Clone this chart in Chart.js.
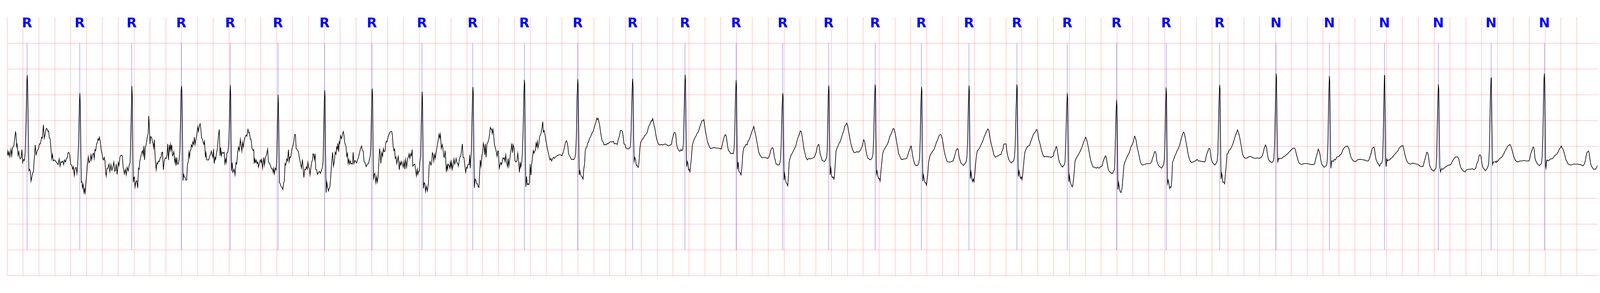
<!DOCTYPE html>
<html>
<head>
<meta charset="utf-8">
<script src="https://cdn.jsdelivr.net/npm/chart.js@4.4.1/dist/chart.umd.min.js"></script>
<style>
  html, body { margin: 0; padding: 0; background: #fff; overflow: hidden; }
  #wrap { position: relative; width: 100vw; height: 100vh; }
</style>
</head>
<body>
<div id="wrap"><canvas id="ecgChart"></canvas></div>
<script>
// beat annotations (seconds) and their symbols
const beatTimes = [0.250, 0.915, 1.570, 2.196, 2.813, 3.416, 4.003, 4.600, 5.232, 5.872, 6.524, 7.197,
  7.890, 8.550, 9.196, 9.783, 10.362, 10.949, 11.532, 12.133, 12.738, 13.373, 13.995, 14.621, 15.294,
  16.007, 16.680, 17.374, 18.055, 18.720, 19.392];
const beatSymbols = ['R','R','R','R','R','R','R','R','R','R','R','R','R','R','R','R','R','R','R','R','R','R','R','R','R',
  'N','N','N','N','N','N'];

// trace: [time s, mV]
const seg1 = [[0,-0.17],[0.005,-0.09],[0.014,-0.17],[0.023,-0.10],[0.034,-0.20],[0.048,-0.05],[0.057,-0.18],[0.068,-0.02],[0.083,0.01],[0.095,0.16],[0.104,0.28],[0.110,0.25],[0.119,0.00],[0.125,0.04],[0.137,-0.17],[0.146,-0.10],[0.155,-0.20],[0.163,-0.24],[0.175,-0.22],[0.184,-0.06],[0.195,-0.31],[0.206,-0.25],[0.217,-0.27],[0.226,-0.13],[0.238,0.52],[0.247,1.25],[0.253,1.38],[0.259,1.10],[0.266,0.30],[0.273,-0.47],[0.282,-0.44],[0.291,-0.47],[0.300,-0.67],[0.309,-0.60],[0.321,-0.51],[0.330,-0.49],[0.340,-0.26],[0.353,0.03],[0.364,-0.16],[0.380,-0.08],[0.394,-0.04],[0.406,0.05],[0.418,0.05],[0.434,0.18],[0.443,0.16],[0.457,0.42],[0.467,0.16],[0.478,0.23],[0.488,0.33],[0.498,0.35],[0.514,0.29],[0.522,0.30],[0.532,0.16],[0.541,0.15],[0.551,-0.02],[0.562,-0.24],[0.571,-0.15],[0.581,-0.28],[0.594,-0.26],[0.606,-0.27],[0.618,-0.30],[0.632,-0.33],[0.642,-0.35],[0.655,-0.24],[0.666,-0.38],[0.678,-0.29],[0.690,-0.31],[0.702,-0.28],[0.712,-0.35],[0.724,-0.26],[0.736,-0.30],[0.745,-0.24],[0.757,-0.22],[0.766,-0.13],[0.775,-0.11],[0.787,-0.15],[0.801,-0.35],[0.813,-0.36],[0.826,-0.44],[0.834,-0.39],[0.846,-0.56],[0.858,-0.41],[0.871,-0.41],[0.879,-0.52],[0.889,-0.35],[0.901,0.09],[0.910,0.81],[0.916,1.03],[0.922,0.81],[0.929,-0.06],[0.935,-0.69],[0.942,-0.68],[0.949,-0.80],[0.958,-0.73],[0.968,-0.89],[0.975,-0.82],[0.983,-0.90],[0.993,-0.69],[1.003,-0.53],[1.011,-0.35],[1.023,-0.20],[1.031,-0.31],[1.045,-0.28],[1.056,-0.16],[1.065,-0.26],[1.077,-0.15],[1.089,-0.13],[1.097,-0.23],[1.107,-0.06],[1.116,-0.08],[1.126,0.04],[1.137,0.08],[1.145,0.15],[1.155,0.12],[1.162,0.18],[1.173,0.11],[1.185,-0.06],[1.197,-0.15],[1.205,-0.24],[1.215,-0.26],[1.223,-0.21],[1.233,-0.28],[1.241,-0.49],[1.248,-0.57],[1.259,-0.42],[1.271,-0.42],[1.284,-0.34],[1.295,-0.49],[1.308,-0.35],[1.320,-0.46],[1.332,-0.40],[1.345,-0.30],[1.356,-0.48],[1.366,-0.46],[1.375,-0.34],[1.386,-0.54],[1.400,-0.31],[1.410,-0.37],[1.422,-0.20],[1.436,-0.17],[1.451,-0.18],[1.463,-0.40],[1.478,-0.53],[1.490,-0.44],[1.502,-0.55],[1.512,-0.40],[1.526,-0.47],[1.540,-0.35],[1.550,-0.31],[1.560,0.30],[1.572,1.17],[1.578,0.96],[1.584,-0.06],[1.590,-0.69],[1.598,-0.60],[1.604,-0.59],[1.613,-0.78],[1.622,-0.69],[1.634,-0.66],[1.646,-0.80],[1.656,-0.42],[1.664,-0.44],[1.672,-0.28],[1.682,-0.22],[1.694,-0.13],[1.706,-0.08],[1.715,-0.17],[1.724,0.01],[1.733,-0.26],[1.742,-0.02],[1.754,0.05],[1.766,0.18],[1.778,0.25],[1.785,0.59]];

const seg2 = [[1.795,0.31],[1.801,0.05],[1.809,0.19],[1.821,0.18],[1.831,0.10],[1.840,0.05],[1.848,-0.03],[1.856,0.13],[1.864,-0.14],[1.870,-0.31],[1.879,-0.45],[1.889,-0.31],[1.897,-0.34],[1.909,-0.28],[1.919,-0.29],[1.929,-0.22],[1.940,-0.21],[1.952,-0.11],[1.959,-0.11],[1.970,-0.45],[1.980,-0.30],[1.992,-0.22],[2.007,-0.23],[2.017,-0.16],[2.024,0.05],[2.035,-0.26],[2.045,0.03],[2.053,-0.08],[2.061,0.04],[2.068,-0.06],[2.075,0.03],[2.085,-0.18],[2.093,-0.16],[2.102,-0.10],[2.114,-0.30],[2.122,-0.23],[2.129,-0.37],[2.139,-0.21],[2.147,-0.34],[2.158,-0.34],[2.169,-0.25],[2.178,-0.06],[2.187,0.57],[2.193,1.07],[2.200,1.17],[2.206,0.94],[2.212,0.06],[2.217,-0.66],[2.226,-0.54],[2.236,-0.59],[2.246,-0.60],[2.252,-0.65],[2.264,-0.65],[2.273,-0.35],[2.283,-0.30],[2.292,-0.11],[2.301,-0.21],[2.307,-0.09],[2.317,-0.06],[2.324,0.03],[2.334,-0.01],[2.341,0.09],[2.352,0.04],[2.361,0.18],[2.370,0.04],[2.383,0.15],[2.392,0.24],[2.403,0.38],[2.413,0.29],[2.423,0.40],[2.434,0.44],[2.444,0.31],[2.452,0.16],[2.462,0.15],[2.470,0.09],[2.480,0.04],[2.489,0.10],[2.500,-0.21],[2.507,-0.12],[2.517,-0.26],[2.529,-0.26],[2.541,-0.26],[2.556,-0.18],[2.566,-0.15],[2.574,-0.09],[2.584,-0.15],[2.595,-0.21],[2.602,-0.05],[2.612,-0.33],[2.622,-0.21],[2.629,-0.25],[2.639,-0.14],[2.651,-0.04],[2.663,0.19],[2.675,0.33],[2.685,-0.18],[2.693,-0.02],[2.702,-0.18],[2.712,-0.11],[2.724,-0.13],[2.736,-0.11],[2.746,-0.33],[2.756,-0.24],[2.763,-0.31],[2.771,-0.13],[2.783,-0.11],[2.795,0.06],[2.804,0.57],[2.810,1.02],[2.815,1.19],[2.819,1.02],[2.824,0.06],[2.830,-0.47],[2.838,-0.31],[2.846,-0.50],[2.855,-0.47],[2.862,-0.44],[2.874,-0.55],[2.885,-0.31],[2.895,-0.34],[2.907,-0.11],[2.917,-0.01],[2.928,-0.08],[2.941,0.14],[2.950,0.02],[2.960,-0.09],[2.968,0.08],[2.978,-0.01],[2.990,0.13],[3.003,0.19],[3.015,0.22],[3.023,0.20],[3.037,0.33],[3.048,0.26],[3.056,0.27],[3.066,0.14],[3.076,0.14],[3.088,-0.03],[3.102,-0.08],[3.110,-0.06],[3.115,-0.33],[3.123,-0.24],[3.132,-0.31],[3.141,-0.26],[3.151,-0.33],[3.160,-0.30],[3.170,-0.40],[3.182,-0.31],[3.194,-0.26],[3.203,-0.31],[3.211,-0.25],[3.221,-0.42],[3.237,-0.21],[3.245,-0.36],[3.258,-0.21],[3.273,-0.15],[3.285,-0.05],[3.295,-0.30],[3.310,-0.33],[3.325,-0.39],[3.334,-0.43],[3.346,-0.43],[3.355,-0.50],[3.362,-0.42],[3.371,-0.53],[3.383,-0.42],[3.393,-0.45],[3.401,-0.19],[3.410,0.52],[3.417,1.00],[3.422,0.82],[3.428,0.06],[3.434,-0.70],[3.444,-0.72],[3.454,-0.77],[3.466,-0.79],[3.477,-0.83],[3.487,-0.70],[3.495,-0.68],[3.505,-0.33],[3.514,-0.36],[3.527,-0.24],[3.536,-0.28],[3.548,-0.06],[3.556,-0.29],[3.566,-0.20],[3.576,-0.21],[3.590,-0.06],[3.605,0.02],[3.615,0.09],[3.625,0.23],[3.636,0.23],[3.645,-0.04],[3.658,-0.06]];

const seg3 = [[3.666,-0.08],[3.675,-0.11],[3.684,-0.21],[3.696,-0.30],[3.712,-0.42],[3.724,-0.25],[3.732,-0.40],[3.742,-0.60],[3.753,-0.44],[3.763,-0.45],[3.775,-0.39],[3.785,-0.44],[3.793,-0.31],[3.802,-0.40],[3.811,-0.42],[3.820,-0.55],[3.830,-0.42],[3.842,-0.30],[3.850,-0.26],[3.858,-0.14],[3.866,-0.15],[3.875,-0.25],[3.884,-0.14],[3.892,-0.44],[3.903,-0.45],[3.915,-0.54],[3.927,-0.50],[3.939,-0.48],[3.951,-0.52],[3.963,-0.47],[3.976,-0.40],[3.984,-0.29],[3.991,0.19],[3.999,0.82],[4.005,1.09],[4.010,0.94],[4.014,0.06],[4.023,-0.89],[4.032,-0.69],[4.042,-0.79],[4.052,-0.86],[4.060,-0.82],[4.069,-0.79],[4.079,-0.64],[4.091,-0.34],[4.105,-0.11],[4.115,-0.38],[4.127,-0.29],[4.137,-0.11],[4.148,-0.15],[4.156,-0.01],[4.164,-0.05],[4.171,0.06],[4.181,-0.10],[4.188,0.09],[4.195,0.06],[4.205,0.21],[4.217,0.15],[4.227,0.22],[4.239,0.29],[4.246,0.24],[4.256,0.09],[4.266,0.03],[4.273,0.01],[4.283,-0.19],[4.293,-0.13],[4.300,-0.33],[4.310,-0.25],[4.319,-0.34],[4.329,-0.28],[4.339,-0.34],[4.348,-0.33],[4.356,-0.34],[4.364,-0.11],[4.374,-0.33],[4.387,-0.27],[4.397,-0.29],[4.407,-0.32],[4.419,-0.26],[4.431,-0.21],[4.443,-0.13],[4.455,-0.05],[4.470,0.01],[4.480,-0.08],[4.492,-0.09],[4.501,-0.29],[4.514,-0.31],[4.528,-0.39],[4.543,-0.34],[4.559,-0.33],[4.571,-0.23],[4.579,-0.20],[4.587,0.01],[4.594,0.57],[4.601,1.07],[4.605,1.12],[4.610,0.94],[4.615,0.06],[4.621,-0.64],[4.629,-0.54],[4.638,-0.52],[4.650,-0.70],[4.660,-0.58],[4.669,-0.69],[4.679,-0.59],[4.689,-0.28],[4.698,-0.04],[4.706,-0.14],[4.713,-0.33],[4.725,-0.12],[4.735,-0.19],[4.745,-0.04],[4.754,-0.10],[4.766,-0.09],[4.774,0.05],[4.783,0.10],[4.791,0.09],[4.802,0.17],[4.813,0.22],[4.822,0.26],[4.832,0.28],[4.842,0.29],[4.850,0.29],[4.859,0.23],[4.868,0.00],[4.878,-0.08],[4.887,-0.05],[4.895,-0.23],[4.905,-0.20],[4.915,-0.33],[4.923,-0.26],[4.933,-0.19],[4.946,-0.45],[4.956,-0.30],[4.966,-0.36],[4.975,-0.29],[4.986,-0.34],[4.996,-0.40],[5.007,-0.29],[5.017,-0.44],[5.026,-0.25],[5.039,-0.40],[5.051,-0.23],[5.060,-0.21],[5.070,-0.14],[5.079,-0.23],[5.090,-0.14],[5.099,-0.18],[5.108,-0.06],[5.117,-0.38],[5.130,-0.35],[5.142,-0.34],[5.150,-0.44],[5.162,-0.57],[5.172,-0.44],[5.180,-0.54],[5.189,-0.48],[5.199,-0.48],[5.206,-0.30],[5.215,-0.19],[5.223,0.44],[5.234,1.06],[5.239,0.94],[5.245,0.06],[5.250,-0.81],[5.260,-0.70],[5.269,-0.72],[5.277,-0.87],[5.288,-0.77],[5.300,-0.86],[5.313,-0.72],[5.323,-0.36],[5.335,-0.29],[5.345,-0.36],[5.355,-0.32],[5.363,-0.12],[5.373,-0.16],[5.381,-0.28],[5.391,-0.15],[5.401,-0.23],[5.410,-0.12],[5.422,-0.01],[5.437,0.13],[5.448,0.24],[5.456,0.16],[5.465,0.24],[5.476,-0.04],[5.488,0.04],[5.497,-0.04],[5.506,-0.19],[5.515,-0.21],[5.524,-0.08],[5.531,-0.22],[5.539,-0.49],[5.549,-0.37],[5.556,-0.44]];

const seg4 = [[5.560,-0.34],[5.572,-0.36],[5.582,-0.42],[5.591,-0.30],[5.599,-0.41],[5.606,-0.30],[5.616,-0.44],[5.627,-0.34],[5.636,-0.24],[5.645,-0.34],[5.655,-0.29],[5.663,-0.23],[5.673,-0.31],[5.684,-0.33],[5.691,-0.38],[5.700,-0.29],[5.712,-0.20],[5.721,-0.19],[5.730,-0.09],[5.742,0.05],[5.751,-0.21],[5.761,-0.21],[5.769,-0.31],[5.783,-0.50],[5.795,-0.40],[5.803,-0.42],[5.812,-0.35],[5.821,-0.34],[5.827,-0.35],[5.834,-0.16],[5.842,-0.42],[5.849,-0.22],[5.855,-0.11],[5.862,0.44],[5.869,0.94],[5.875,1.15],[5.880,1.02],[5.886,0.06],[5.893,-0.80],[5.903,-0.63],[5.913,-0.65],[5.922,-0.72],[5.932,-0.72],[5.942,-0.78],[5.951,-0.79],[5.959,-0.54],[5.967,-0.26],[5.977,-0.38],[5.988,-0.18],[5.998,-0.11],[6.007,0.06],[6.017,-0.01],[6.024,-0.16],[6.032,0.05],[6.041,-0.21],[6.052,0.05],[6.064,0.08],[6.077,0.15],[6.085,0.24],[6.095,0.37],[6.105,0.33],[6.111,0.34],[6.119,0.25],[6.128,0.33],[6.136,0.24],[6.147,0.02],[6.156,-0.01],[6.168,-0.09],[6.180,-0.19],[6.188,-0.09],[6.196,-0.09],[6.207,-0.42],[6.216,-0.36],[6.226,-0.31],[6.235,-0.35],[6.244,-0.30],[6.255,-0.22],[6.265,-0.24],[6.271,-0.22],[6.280,-0.29],[6.289,-0.16],[6.299,-0.30],[6.311,-0.39],[6.320,-0.23],[6.328,-0.38],[6.338,-0.26],[6.348,-0.14],[6.356,-0.06],[6.366,0.06],[6.374,-0.12],[6.384,0.03],[6.394,-0.03],[6.405,-0.27],[6.417,-0.30],[6.429,-0.28],[6.441,-0.13],[6.451,-0.30],[6.462,-0.50],[6.471,-0.30],[6.479,-0.40],[6.491,-0.30],[6.498,-0.14],[6.508,0.31],[6.516,0.94],[6.524,1.29],[6.529,1.20],[6.535,0.06],[6.542,-0.78],[6.552,-0.58],[6.561,-0.74],[6.571,-0.72],[6.581,-0.74],[6.589,-0.69],[6.597,-0.34],[6.607,-0.55],[6.617,-0.34],[6.627,-0.19],[6.637,-0.08],[6.645,-0.13],[6.654,-0.09],[6.663,-0.08],[6.671,0.06],[6.678,0.00],[6.688,0.10],[6.695,-0.03],[6.707,0.06],[6.717,0.20],[6.729,0.23],[6.739,0.30],[6.748,0.38],[6.756,0.48],[6.763,0.28],[6.773,0.31],[6.782,0.25],[6.792,0.15],[6.802,0.06],[6.814,-0.04],[6.824,-0.11],[6.836,-0.19],[6.846,-0.26],[6.858,-0.23],[6.868,-0.28],[6.879,-0.24],[6.891,-0.21],[6.903,-0.23],[6.915,-0.20],[6.927,-0.19],[6.945,-0.17],[6.964,-0.16],[6.982,-0.16],[6.998,-0.18],[7.008,-0.14],[7.018,-0.09],[7.030,-0.01],[7.043,0.08],[7.055,0.11],[7.067,0.06],[7.074,-0.01],[7.081,-0.14],[7.094,-0.18],[7.106,-0.21],[7.118,-0.25],[7.134,-0.25],[7.149,-0.25],[7.162,-0.21],[7.171,-0.14],[7.180,0.19],[7.188,0.94],[7.198,1.30],[7.203,1.17],[7.209,0.31],[7.216,-0.55],[7.225,-0.47],[7.234,-0.55],[7.244,-0.58],[7.254,-0.59],[7.264,-0.63],[7.273,-0.44],[7.283,-0.34],[7.292,-0.09],[7.300,-0.03],[7.312,-0.01],[7.322,0.06],[7.334,0.09],[7.346,0.16],[7.358,0.18],[7.371,0.24],[7.383,0.27],[7.395,0.30],[7.407,0.38],[7.419,0.43],[7.429,0.49],[7.439,0.55]];

const seg5 = [[7.447,0.52],[7.456,0.54],[7.465,0.47],[7.473,0.42],[7.483,0.30],[7.495,0.19],[7.505,0.11],[7.517,0.09],[7.529,0.03],[7.544,0.04],[7.556,0.03],[7.568,0.06],[7.580,0.05],[7.595,0.08],[7.611,0.09],[7.629,0.09],[7.647,0.10],[7.659,0.05],[7.678,0.06],[7.696,0.04],[7.708,0.13],[7.724,0.21],[7.736,0.31],[7.748,0.31],[7.760,0.29],[7.769,0.21],[7.781,0.05],[7.793,0.04],[7.805,-0.03],[7.821,-0.04],[7.836,-0.05],[7.851,-0.03],[7.862,0.00],[7.870,0.26],[7.878,0.82],[7.887,1.25],[7.891,1.31],[7.896,1.12],[7.902,0.25],[7.908,-0.29],[7.918,-0.21],[7.927,-0.25],[7.935,-0.36],[7.945,-0.36],[7.953,-0.40],[7.963,-0.40],[7.972,-0.26],[7.981,-0.04],[7.991,0.08],[8.003,0.11],[8.015,0.15],[8.027,0.16],[8.040,0.21],[8.052,0.22],[8.064,0.25],[8.076,0.28],[8.088,0.37],[8.100,0.41],[8.113,0.45],[8.125,0.50],[8.133,0.49],[8.142,0.54],[8.151,0.49],[8.161,0.40],[8.171,0.34],[8.182,0.23],[8.194,0.14],[8.206,0.08],[8.218,0.04],[8.234,0.03],[8.249,0.04],[8.267,0.03],[8.285,0.04],[8.303,0.05],[8.321,0.03],[8.346,0.01],[8.364,0.03],[8.380,0.04],[8.388,0.13],[8.400,0.20],[8.413,0.27],[8.425,0.27],[8.433,0.24],[8.443,0.06],[8.455,-0.03],[8.467,-0.06],[8.479,-0.09],[8.489,-0.09],[8.499,-0.06],[8.510,-0.08],[8.522,-0.06],[8.530,0.06],[8.538,0.57],[8.545,1.07],[8.552,1.39],[8.557,1.27],[8.562,0.57],[8.571,-0.39],[8.579,-0.29],[8.586,-0.32],[8.595,-0.45],[8.603,-0.44],[8.613,-0.49],[8.623,-0.34],[8.632,-0.20],[8.642,0.01],[8.654,0.09],[8.667,0.14],[8.679,0.18],[8.692,0.21],[8.705,0.26],[8.718,0.28],[8.730,0.34],[8.742,0.40],[8.754,0.45],[8.766,0.50],[8.777,0.50],[8.787,0.52],[8.795,0.44],[8.807,0.31],[8.820,0.21],[8.832,0.10],[8.844,0.05],[8.856,0.00],[8.871,-0.04],[8.893,-0.03],[8.917,-0.02],[8.941,-0.03],[8.965,-0.03],[8.990,-0.04],[9.008,-0.05],[9.020,0.03],[9.032,0.11],[9.044,0.18],[9.057,0.23],[9.069,0.21],[9.077,0.13],[9.087,0.01],[9.099,-0.08],[9.114,-0.10],[9.129,-0.14],[9.145,-0.13],[9.160,-0.14],[9.170,-0.04],[9.178,0.31],[9.187,0.94],[9.195,1.28],[9.200,1.17],[9.206,0.25],[9.212,-0.44],[9.221,-0.30],[9.230,-0.48],[9.243,-0.50],[9.257,-0.55],[9.269,-0.39],[9.279,-0.16],[9.291,-0.03],[9.306,0.00],[9.318,0.04]];

const seg6 = [[9.333,0.03],[9.345,0.10],[9.360,0.13],[9.376,0.20],[9.391,0.28],[9.406,0.33],[9.418,0.39],[9.430,0.30],[9.443,0.21],[9.455,0.11],[9.467,0.01],[9.479,-0.10],[9.491,-0.15],[9.506,-0.19],[9.522,-0.22],[9.540,-0.21],[9.558,-0.21],[9.576,-0.22],[9.594,-0.23],[9.610,-0.20],[9.622,-0.14],[9.637,-0.05],[9.652,-0.02],[9.664,-0.05],[9.676,-0.19],[9.688,-0.26],[9.698,-0.33],[9.712,-0.35],[9.728,-0.36],[9.744,-0.34],[9.756,-0.24],[9.765,0.11],[9.773,0.69],[9.783,1.03],[9.788,0.97],[9.792,0.19],[9.800,-0.65],[9.807,-0.53],[9.817,-0.64],[9.826,-0.70],[9.836,-0.72],[9.846,-0.76],[9.856,-0.57],[9.865,-0.29],[9.875,-0.23],[9.890,-0.16],[9.904,-0.13],[9.919,-0.08],[9.933,-0.04],[9.947,0.01],[9.959,0.08],[9.971,0.15],[9.983,0.20],[9.995,0.25],[10.004,0.30],[10.016,0.29],[10.026,0.21],[10.038,0.10],[10.050,-0.04],[10.062,-0.12],[10.077,-0.21],[10.093,-0.26],[10.111,-0.23],[10.129,-0.24],[10.147,-0.23],[10.165,-0.22],[10.181,-0.21],[10.193,-0.16],[10.206,-0.11],[10.218,-0.01],[10.228,0.03],[10.238,0.04],[10.247,-0.04],[10.257,-0.16],[10.269,-0.20],[10.281,-0.27],[10.295,-0.28],[10.311,-0.29],[10.327,-0.25],[10.337,-0.21],[10.344,-0.09],[10.351,0.44],[10.357,0.99],[10.364,1.18],[10.368,1.07],[10.374,0.19],[10.381,-0.55],[10.390,-0.42],[10.400,-0.57],[10.410,-0.60],[10.419,-0.59],[10.429,-0.63],[10.436,-0.57],[10.445,-0.35],[10.456,-0.09],[10.468,-0.03],[10.481,0.01],[10.494,0.06],[10.506,0.09],[10.518,0.14],[10.530,0.20],[10.542,0.26],[10.554,0.31],[10.566,0.39],[10.579,0.42],[10.591,0.45],[10.603,0.40],[10.615,0.29],[10.627,0.18],[10.639,0.08],[10.652,0.00],[10.664,-0.06],[10.680,-0.11],[10.696,-0.12],[10.716,-0.10],[10.737,-0.11],[10.755,-0.09],[10.767,-0.06],[10.782,-0.01],[10.791,0.03],[10.803,0.13],[10.816,0.10],[10.828,-0.03],[10.842,-0.15],[10.858,-0.23],[10.874,-0.24],[10.889,-0.26],[10.901,-0.24],[10.913,-0.21],[10.922,-0.14],[10.931,0.19],[10.939,0.82],[10.949,1.20],[10.954,1.12],[10.960,0.19],[10.965,-0.53],[10.973,-0.47],[10.983,-0.57],[10.993,-0.62],[11.003,-0.62],[11.012,-0.67],[11.022,-0.47],[11.032,-0.33],[11.042,-0.16],[11.054,-0.09],[11.068,-0.04],[11.083,-0.01],[11.097,0.03],[11.109,0.06],[11.122,0.13],[11.134,0.19],[11.146,0.23],[11.158,0.27],[11.168,0.32],[11.178,0.35],[11.187,0.34],[11.198,0.28],[11.210,0.19],[11.223,0.06],[11.238,-0.06]];

const seg7 = [[11.244,-0.14],[11.254,-0.16],[11.266,-0.21],[11.280,-0.25],[11.295,-0.25],[11.311,-0.24],[11.329,-0.24],[11.347,-0.23],[11.359,-0.18],[11.372,-0.11],[11.384,-0.06],[11.396,0.00],[11.404,0.01],[11.414,-0.09],[11.424,-0.19],[11.436,-0.28],[11.450,-0.34],[11.465,-0.37],[11.481,-0.37],[11.497,-0.34],[11.509,-0.23],[11.517,0.11],[11.526,0.82],[11.534,1.15],[11.539,1.07],[11.544,0.19],[11.550,-0.67],[11.559,-0.55],[11.568,-0.64],[11.578,-0.70],[11.588,-0.70],[11.597,-0.75],[11.606,-0.62],[11.613,-0.54],[11.623,-0.31],[11.633,-0.23],[11.645,-0.16],[11.659,-0.13],[11.675,-0.09],[11.691,-0.06],[11.706,0.00],[11.720,0.07],[11.732,0.11],[11.745,0.16],[11.757,0.21],[11.769,0.23],[11.779,0.23],[11.791,0.18],[11.803,0.09],[11.815,-0.04],[11.827,-0.14],[11.842,-0.22],[11.857,-0.29],[11.876,-0.30],[11.894,-0.30],[11.912,-0.29],[11.930,-0.28],[11.946,-0.22],[11.958,-0.15],[11.970,-0.08],[11.985,-0.04],[11.997,-0.06],[12.007,-0.19],[12.019,-0.26],[12.031,-0.32],[12.046,-0.34],[12.063,-0.37],[12.080,-0.33],[12.094,-0.31],[12.107,-0.21],[12.116,0.11],[12.125,0.82],[12.133,1.18],[12.138,1.07],[12.143,0.19],[12.150,-0.62],[12.159,-0.49],[12.167,-0.60],[12.177,-0.68],[12.187,-0.63],[12.196,-0.68],[12.206,-0.54],[12.216,-0.34],[12.226,-0.19],[12.238,-0.09],[12.252,-0.06],[12.267,-0.03],[12.283,0.03],[12.299,0.08],[12.313,0.13],[12.325,0.19],[12.337,0.23],[12.350,0.28],[12.362,0.31],[12.371,0.34],[12.384,0.31],[12.396,0.18],[12.408,0.09],[12.420,0.01],[12.432,-0.06],[12.447,-0.16],[12.465,-0.21],[12.483,-0.19],[12.501,-0.18],[12.520,-0.16],[12.538,-0.15],[12.550,-0.09],[12.562,-0.05],[12.571,0.04],[12.583,0.05],[12.601,0.05],[12.611,-0.09],[12.623,-0.19],[12.635,-0.25],[12.651,-0.29],[12.666,-0.32],[12.684,-0.29],[12.696,-0.28],[12.708,-0.19],[12.717,0.06],[12.726,0.69],[12.737,1.20],[12.742,1.12],[12.748,0.19],[12.755,-0.58],[12.765,-0.47],[12.775,-0.57],[12.784,-0.62],[12.794,-0.59],[12.802,-0.64],[12.811,-0.54],[12.823,-0.34],[12.835,-0.13],[12.850,-0.06],[12.866,-0.01],[12.882,0.01],[12.896,0.02],[12.911,0.09],[12.923,0.14],[12.935,0.19],[12.947,0.24],[12.960,0.26],[12.972,0.29],[12.988,0.33],[13.000,0.28],[13.012,0.15],[13.024,0.08],[13.036,0.01],[13.048,-0.08],[13.064,-0.15],[13.079,-0.20],[13.097,-0.19],[13.113,-0.20],[13.125,-0.19]];

const seg8 = [[13.130,-0.20],[13.149,-0.20],[13.167,-0.21],[13.185,-0.20],[13.197,-0.18],[13.206,-0.11],[13.218,-0.08],[13.228,-0.02],[13.237,0.00],[13.246,-0.06],[13.254,-0.14],[13.264,-0.25],[13.276,-0.31],[13.288,-0.34],[13.301,-0.38],[13.313,-0.40],[13.325,-0.37],[13.337,-0.35],[13.345,-0.29],[13.354,0.11],[13.364,0.69],[13.373,1.03],[13.378,0.94],[13.384,0.19],[13.392,-0.68],[13.400,-0.56],[13.410,-0.68],[13.420,-0.73],[13.429,-0.76],[13.437,-0.78],[13.446,-0.72],[13.458,-0.54],[13.471,-0.28],[13.485,-0.23],[13.501,-0.19],[13.519,-0.14],[13.537,-0.09],[13.553,-0.03],[13.568,0.03],[13.580,0.09],[13.592,0.13],[13.604,0.18],[13.616,0.14],[13.629,0.06],[13.641,-0.04],[13.653,-0.14],[13.667,-0.26],[13.683,-0.34],[13.701,-0.40],[13.720,-0.40],[13.738,-0.42],[13.756,-0.40],[13.774,-0.42],[13.793,-0.39],[13.811,-0.38],[13.823,-0.30],[13.835,-0.25],[13.847,-0.20],[13.857,-0.18],[13.867,-0.22],[13.878,-0.34],[13.890,-0.44],[13.902,-0.48],[13.918,-0.50],[13.932,-0.52],[13.945,-0.52],[13.957,-0.47],[13.969,-0.44],[13.977,-0.06],[13.986,0.57],[13.995,0.90],[14.000,0.77],[14.006,0.06],[14.012,-0.83],[14.021,-0.70],[14.030,-0.79],[14.039,-0.87],[14.051,-0.89],[14.064,-0.81],[14.076,-0.59],[14.088,-0.36],[14.102,-0.29],[14.117,-0.24],[14.133,-0.18],[14.149,-0.14],[14.163,-0.08],[14.175,-0.01],[14.190,0.03],[14.206,0.09],[14.222,0.20],[14.230,0.18],[14.242,0.11],[14.254,-0.01],[14.266,-0.09],[14.279,-0.18],[14.291,-0.26],[14.303,-0.33],[14.321,-0.36],[14.345,-0.35],[14.370,-0.33],[14.394,-0.33],[14.418,-0.33],[14.437,-0.30],[14.449,-0.22],[14.461,-0.18],[14.473,-0.10],[14.485,-0.10],[14.494,-0.15],[14.503,-0.28],[14.516,-0.34],[14.530,-0.38],[14.546,-0.40],[14.562,-0.42],[14.576,-0.39],[14.588,-0.34],[14.598,-0.24],[14.607,0.25],[14.614,0.82],[14.620,1.14],[14.625,1.02],[14.630,0.19],[14.637,-0.72],[14.646,-0.65],[14.655,-0.72],[14.664,-0.81],[14.673,-0.78],[14.682,-0.79],[14.692,-0.65],[14.700,-0.31],[14.713,-0.26],[14.728,-0.19],[14.744,-0.14],[14.759,-0.08],[14.774,-0.04],[14.789,0.02],[14.804,0.11],[14.816,0.18],[14.828,0.24],[14.838,0.28],[14.850,0.26],[14.862,0.16],[14.874,0.06],[14.886,-0.04],[14.898,-0.15],[14.911,-0.23],[14.923,-0.28],[14.941,-0.31],[14.959,-0.30],[14.977,-0.29],[14.996,-0.27],[15.011,-0.25]];

const seg9 = [[15.029,-0.28],[15.047,-0.28],[15.066,-0.29],[15.084,-0.29],[15.102,-0.30],[15.114,-0.28],[15.124,-0.20],[15.136,-0.13],[15.148,-0.09],[15.157,-0.04],[15.172,-0.04],[15.181,-0.14],[15.189,-0.24],[15.202,-0.30],[15.217,-0.33],[15.233,-0.36],[15.248,-0.33],[15.262,-0.29],[15.272,-0.16],[15.279,0.31],[15.287,0.87],[15.295,1.19],[15.300,1.12],[15.306,0.19],[15.313,-0.63],[15.321,-0.52],[15.328,-0.57],[15.336,-0.69],[15.347,-0.69],[15.357,-0.72],[15.367,-0.55],[15.377,-0.39],[15.388,-0.15],[15.400,-0.13],[15.412,-0.08],[15.424,-0.06],[15.436,-0.04],[15.448,0.00],[15.460,0.04],[15.473,0.10],[15.485,0.17],[15.497,0.22],[15.509,0.27],[15.521,0.32],[15.533,0.27],[15.545,0.20],[15.558,0.09],[15.570,-0.01],[15.582,-0.13],[15.594,-0.19],[15.610,-0.22],[15.630,-0.23],[15.655,-0.21],[15.673,-0.19],[15.697,-0.20],[15.722,-0.22],[15.746,-0.23],[15.770,-0.22],[15.794,-0.23],[15.819,-0.21],[15.833,-0.18],[15.843,-0.13],[15.855,-0.05],[15.865,0.00],[15.873,0.03],[15.886,-0.01],[15.898,-0.15],[15.910,-0.25],[15.926,-0.28],[15.940,-0.30],[15.955,-0.31],[15.968,-0.29],[15.979,-0.24],[15.989,0.06],[15.999,0.82],[16.008,1.41],[16.013,1.32],[16.019,0.44],[16.028,-0.31],[16.037,-0.23],[16.050,-0.24],[16.062,-0.23],[16.080,-0.23],[16.098,-0.20],[16.117,-0.19],[16.135,-0.16],[16.153,-0.14],[16.171,-0.11],[16.189,-0.08],[16.208,-0.05],[16.222,-0.03],[16.238,-0.03],[16.250,-0.06],[16.262,-0.14],[16.274,-0.21],[16.290,-0.30],[16.305,-0.33],[16.329,-0.35],[16.353,-0.33],[16.378,-0.33],[16.402,-0.33],[16.426,-0.34],[16.451,-0.35],[16.475,-0.35],[16.493,-0.34],[16.505,-0.25],[16.517,-0.18],[16.530,-0.11],[16.539,-0.05],[16.550,-0.09],[16.560,-0.14],[16.570,-0.25],[16.582,-0.34],[16.596,-0.37],[16.611,-0.40],[16.627,-0.39],[16.643,-0.36],[16.652,-0.29],[16.661,0.06],[16.669,0.82],[16.679,1.36],[16.684,1.27],[16.690,0.44],[16.698,-0.42],[16.708,-0.28],[16.718,-0.28],[16.730,-0.29],[16.742,-0.25],[16.757,-0.26],[16.773,-0.20],[16.788,-0.20],[16.803,-0.19],[16.815,-0.16],[16.827,-0.15],[16.839,-0.11],[16.852,-0.06],[16.864,-0.03],[16.876,-0.01],[16.888,0.00]];

const seg10 = [[16.897,0.00],[16.906,0.01],[16.916,-0.01],[16.928,-0.05],[16.940,-0.14],[16.952,-0.21],[16.967,-0.25],[16.982,-0.28],[16.998,-0.29],[17.013,-0.29],[17.031,-0.26],[17.049,-0.25],[17.067,-0.25],[17.086,-0.25],[17.104,-0.26],[17.122,-0.26],[17.146,-0.28],[17.171,-0.28],[17.183,-0.24],[17.195,-0.18],[17.207,-0.13],[17.219,-0.04],[17.231,-0.02],[17.241,-0.01],[17.250,-0.06],[17.258,-0.16],[17.268,-0.25],[17.282,-0.30],[17.298,-0.34],[17.313,-0.38],[17.326,-0.33],[17.341,-0.32],[17.351,-0.24],[17.359,0.19],[17.366,0.82],[17.374,1.38],[17.378,1.30],[17.385,0.44],[17.389,-0.24],[17.395,-0.39],[17.404,-0.24],[17.414,-0.28],[17.426,-0.26],[17.440,-0.26],[17.456,-0.23],[17.474,-0.21],[17.493,-0.17],[17.511,-0.14],[17.529,-0.11],[17.545,-0.08],[17.560,-0.03],[17.574,-0.01],[17.590,0.01],[17.606,0.02],[17.618,-0.05],[17.630,-0.14],[17.645,-0.23],[17.663,-0.30],[17.681,-0.33],[17.705,-0.34],[17.730,-0.32],[17.754,-0.33],[17.778,-0.34],[17.802,-0.35],[17.821,-0.38],[17.845,-0.39],[17.863,-0.38],[17.875,-0.30],[17.888,-0.23],[17.900,-0.16],[17.909,-0.11],[17.922,-0.13],[17.931,-0.21],[17.942,-0.35],[17.954,-0.40],[17.970,-0.45],[17.985,-0.46],[17.997,-0.48],[18.009,-0.45],[18.024,-0.42],[18.033,-0.19],[18.041,0.44],[18.048,0.92],[18.055,1.20],[18.060,1.10],[18.066,0.31],[18.073,-0.40],[18.082,-0.49],[18.094,-0.43],[18.109,-0.44],[18.125,-0.42],[18.143,-0.40],[18.161,-0.38],[18.179,-0.36],[18.197,-0.36],[18.216,-0.34],[18.228,-0.29],[18.242,-0.26],[18.258,-0.22],[18.276,-0.20],[18.295,-0.20],[18.310,-0.23],[18.325,-0.34],[18.340,-0.42],[18.355,-0.45],[18.374,-0.48],[18.392,-0.49],[18.410,-0.45],[18.434,-0.44],[18.459,-0.44],[18.483,-0.43],[18.507,-0.45],[18.525,-0.42],[18.541,-0.33],[18.556,-0.28],[18.568,-0.18],[18.578,-0.16],[18.590,-0.18],[18.602,-0.31],[18.614,-0.40],[18.629,-0.43],[18.647,-0.47],[18.663,-0.44],[18.677,-0.40],[18.689,-0.34],[18.698,-0.06],[18.705,0.57],[18.712,1.02],[18.719,1.33],[18.723,1.25],[18.730,0.44],[18.738,-0.35],[18.748,-0.30],[18.760,-0.30],[18.772,-0.29],[18.784,-0.31]];

const seg11 = [[18.788,-0.28],[18.801,-0.29],[18.824,-0.24],[18.841,-0.22],[18.859,-0.20],[18.877,-0.15],[18.895,-0.09],[18.913,-0.04],[18.931,0.01],[18.949,0.03],[18.958,0.04],[18.971,0.00],[18.986,-0.08],[19.001,-0.17],[19.016,-0.24],[19.034,-0.28],[19.056,-0.30],[19.083,-0.28],[19.110,-0.28],[19.136,-0.27],[19.163,-0.28],[19.181,-0.28],[19.197,-0.28],[19.208,-0.23],[19.221,-0.13],[19.235,-0.08],[19.245,-0.02],[19.254,-0.01],[19.263,-0.06],[19.275,-0.24],[19.288,-0.29],[19.302,-0.33],[19.315,-0.35],[19.329,-0.37],[19.342,-0.35],[19.355,-0.33],[19.364,-0.20],[19.373,0.23],[19.380,0.85],[19.387,1.32],[19.392,1.41],[19.397,1.21],[19.402,0.49],[19.407,-0.38],[19.412,-0.42],[19.418,-0.28],[19.427,-0.26],[19.436,-0.28],[19.449,-0.27],[19.467,-0.24],[19.485,-0.24],[19.503,-0.22],[19.521,-0.18],[19.539,-0.16],[19.557,-0.13],[19.570,-0.09],[19.584,-0.04],[19.597,-0.02],[19.604,0.01],[19.612,-0.02],[19.624,-0.04],[19.637,-0.10],[19.650,-0.17],[19.664,-0.26],[19.677,-0.29],[19.691,-0.34],[19.709,-0.35],[19.726,-0.36],[19.744,-0.35],[19.762,-0.34],[19.780,-0.34],[19.798,-0.34],[19.816,-0.34],[19.834,-0.35],[19.852,-0.35],[19.869,-0.37],[19.883,-0.37],[19.896,-0.34],[19.908,-0.28],[19.919,-0.18],[19.928,-0.12],[19.939,-0.10],[19.950,-0.09],[19.959,-0.15],[19.968,-0.26],[19.977,-0.34],[19.986,-0.38],[19.999,-0.41],[20.013,-0.44],[20.026,-0.44],[20.039,-0.44],[20.048,-0.41],[20.060,-0.37]];

const ecgTrace = [].concat(seg1, seg2, seg3, seg4, seg5, seg6, seg7, seg8, seg9, seg10, seg11);

const xMin = 0, xMax = 20.064;     // seconds shown
const yMin = -2.5, yMax = 2.5;     // mV shown
const markLow = -2, markHigh = 2;  // extent of the beat marker lines

const gridColor = 'rgba(255, 0, 0, 0.27)';

// the strip was laid out for a 7522 x 750 page; scale the margins to the real window
const wrap = document.getElementById('wrap');
const W = wrap.clientWidth || 7522;
const H = wrap.clientHeight || 750;
const sx = W / 7522, sy = H / 750;

// label each annotated beat at the top of the strip
const beatLabels = {
  id: 'beatLabels',
  afterDatasetsDraw(chart) {
    const { ctx, scales: { x, y } } = chart;
    ctx.save();
    ctx.fillStyle = '#0000ff';
    ctx.font = 'bold ' + Math.round(34 * sy) + 'px "DejaVu Sans"';
    ctx.textAlign = 'center';
    ctx.textBaseline = 'alphabetic';
    beatTimes.forEach((t, i) => {
      ctx.fillText(beatSymbols[i], x.getPixelForValue(t), y.getPixelForValue(2.3));
    });
    ctx.restore();
  }
};

const markerData = [];
beatTimes.forEach(t => {
  markerData.push({ x: t, y: markLow }, { x: t, y: markHigh }, { x: t, y: null });
});

const ctx = document.getElementById('ecgChart').getContext('2d');
const ecgChart = new Chart(ctx, {
  type: 'line',
  data: {
    datasets: [{
      label: 'ECG',
      data: ecgTrace.map(p => ({ x: p[0], y: p[1] })),
      borderColor: '#000',
      borderWidth: 1.6,
      pointRadius: 0,
      tension: 0,
      order: 0
    }, {
      label: 'beats',
      data: markerData,
      borderColor: 'rgba(0, 0, 255, 0.55)',
      borderWidth: 1,
      pointRadius: 0,
      spanGaps: false,
      order: 1
    }]
  },
  options: {
    responsive: true,
    maintainAspectRatio: false,
    devicePixelRatio: 1,
    animation: false,
    layout: { padding: { left: 34 * sx, right: 11 * sx, top: 44 * sy, bottom: 44 * sy } },
    plugins: { legend: { display: false }, tooltip: { enabled: false } },
    scales: {
      x: {
        type: 'linear',
        min: xMin,
        max: xMax,
        ticks: { display: false, stepSize: 0.2 },
        grid: { color: gridColor, lineWidth: 1.3, drawTicks: false },
        border: { display: false },
        afterBuildTicks: axis => {
          axis.ticks = axis.ticks.filter(t => Math.abs(t.value * 5 - Math.round(t.value * 5)) < 1e-6);
        }
      },
      y: {
        type: 'linear',
        min: yMin,
        max: yMax,
        ticks: { display: false, stepSize: 0.5 },
        grid: { color: gridColor, lineWidth: 1.3, drawTicks: false },
        border: { display: false },
        afterBuildTicks: axis => {
          axis.ticks = axis.ticks.filter(t => t.value < yMax - 1e-6);
        }
      }
    }
  },
  plugins: [beatLabels]
});
</script>
</body>
</html>
